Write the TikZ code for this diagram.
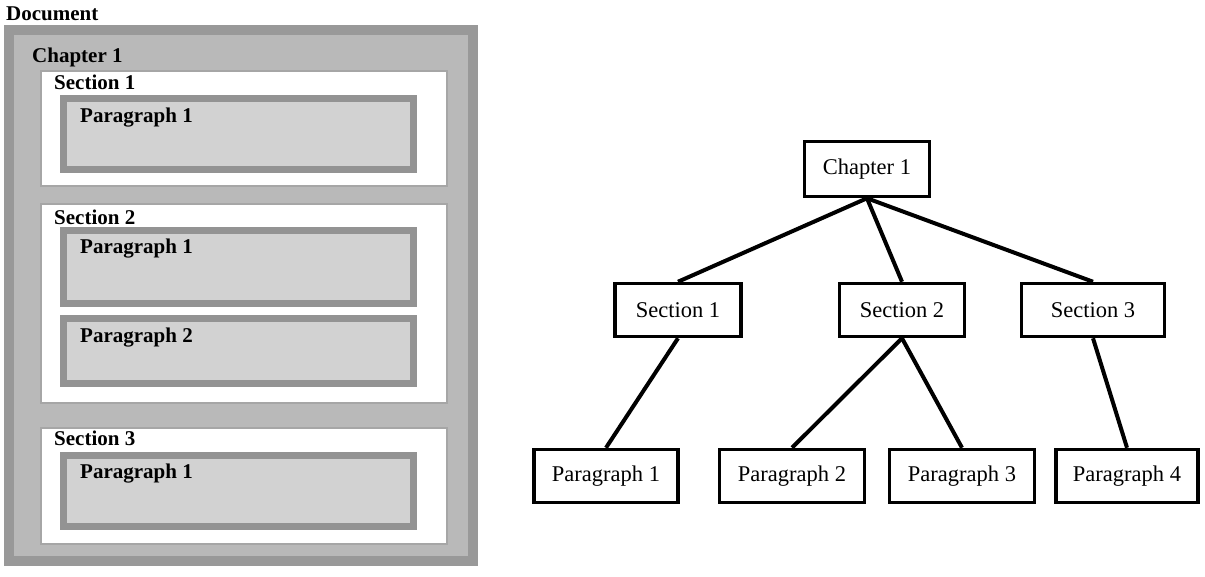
\documentclass[tikz,border=0pt]{standalone}
\usepackage{fontspec}
\setmainfont{Liberation Serif}
\usetikzlibrary{positioning}
\newcommand{\tagsize}{\fontsize{21}{25}\selectfont}
\newcommand{\treesize}{\fontsize{22.5}{27}\selectfont}

\begin{document}
\begin{tikzpicture}[x=1pt,y=-1pt,
	chapterframe/.style={fill=gray!55, draw=gray!80, line width=10pt},
	sectionbox/.style={fill=white, draw=gray!70, line width=2pt},
	parabox/.style={fill=gray!35, draw=gray!85, line width=7pt},
	tag/.style={anchor=base west, inner sep=0pt, font=\bfseries\tagsize},
	treebox/.style={draw, line width=3.5pt, inner sep=0pt, minimum height=53pt, font=\treesize},
	link/.style={line width=4pt}]
	\useasboundingbox (0,0) rectangle (1205,576);

	\draw[chapterframe] (9,30) rectangle (473,561);
	\draw[sectionbox] (41,71) rectangle (447,186);
	\draw[sectionbox] (41,204) rectangle (447,403);
	\draw[sectionbox] (41,428) rectangle (447,544);
	\draw[parabox] (63.5,98.5) rectangle (413.5,169.5);
	\draw[parabox] (63.5,230.5) rectangle (413.5,303.5);
	\draw[parabox] (63.5,318.5) rectangle (413.5,383.5);
	\draw[parabox] (63.5,455.5) rectangle (413.5,526.5);

	\node[tag] (doc) at (6,20) {Document};
	\node[tag] (chaptag) at (32,62) {Chapter 1};
	\node[tag] (sectag1) at (54,89) {Section 1};
	\node[tag] (partag11) at (80,122) {Paragraph 1};
	\node[tag] (sectag2) at (54,224) {Section 2};
	\node[tag] (partag21) at (80,253) {Paragraph 1};
	\node[tag] (partag22) at (80,342) {Paragraph 2};
	\node[tag] (sectag3) at (54,445) {Section 3};
	\node[tag] (partag31) at (80,478) {Paragraph 1};

	\node[treebox, minimum width=125pt, minimum height=55pt] (chap) at (867,169) {Chapter 1};
	\node[treebox, minimum width=126pt] (sec1) at (678,310) {Section 1};
	\node[treebox, minimum width=125pt] (sec2) at (902,310) {Section 2};
	\node[treebox, minimum width=143pt] (sec3) at (1093,310) {Section 3};
	\node[treebox, minimum width=144pt] (par1) at (606,476) {Paragraph 1};
	\node[treebox, minimum width=145pt] (par2) at (792,476) {Paragraph 2};
	\node[treebox, minimum width=145pt] (par3) at (962,476) {Paragraph 3};
	\node[treebox, minimum width=142pt] (par4) at (1127,476) {Paragraph 4};

	\draw[link] (chap.south) -- (sec1.north);
	\draw[link] (chap.south) -- (sec2.north);
	\draw[link] (chap.south) -- (sec3.north);
	\draw[link] (sec1.south) -- (par1.north);
	\draw[link] (sec2.south) -- (par2.north);
	\draw[link] (sec2.south) -- (par3.north);
	\draw[link] (sec3.south) -- (par4.north);
\end{tikzpicture}
\end{document}
